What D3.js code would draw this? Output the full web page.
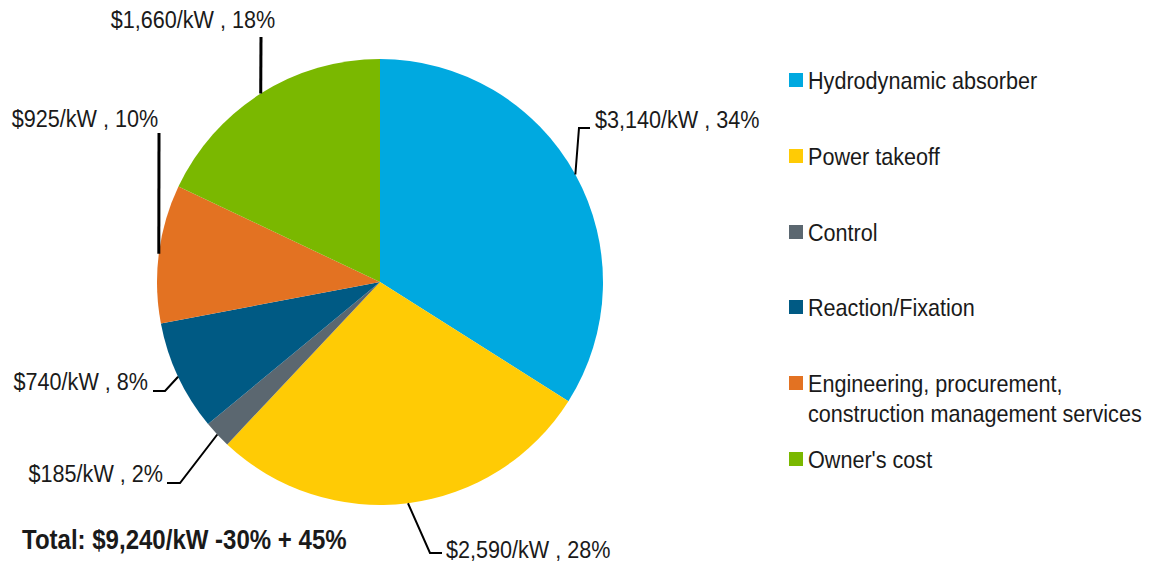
<!DOCTYPE html>
<html><head><meta charset="utf-8">
<script src="https://cdn.jsdelivr.net/npm/d3@7"></script>
<style>
html,body{margin:0;padding:0;background:#fff;}
text{font-family:'Liberation Sans Narrow','Arial Narrow','Liberation Sans',Arial,sans-serif;fill:#1a1a1a;}
</style></head>
<body><svg id="c" width="1152" height="567"></svg>
<script>
const categories = ["Hydrodynamic absorber","Power takeoff","Control","Reaction/Fixation","Engineering, procurement,\nconstruction management services","Owner's cost"];
const costs = [3140, 2590, 185, 740, 925, 1660];
const percents = [34, 28, 2, 8, 10, 18];
const colors = ["#00A9E0","#FFCB05","#5B6770","#005A84","#E37222","#7AB800"];
const totalLabel = "Total: $9,240/kW -30% + 45%";

// label layout (elbow point, end point of leader, text anchor)
const labelLayout = [
  {elbow:[579,128], end:[590,128], tx:595, ty:128, anchor:"start", w:2},
  {elbow:[430,553], end:[442,553], tx:446, ty:558, anchor:"start", w:2},
  {elbow:[180,483], end:[167,483], tx:163, ty:482, anchor:"end", w:2},
  {elbow:[165,391], end:[153,391], tx:148, ty:390, anchor:"end", w:2},
  {elbow:null, end:[159,133], tx:85, ty:127, anchor:"middle", w:3},
  {elbow:null, end:[261,37], tx:193, ty:28, anchor:"middle", w:3}
];

const SX = 0.9;
function ntext(sel, x, y, size, str, anchor, bold, sx){
  const t = sel.append("text")
    .attr("transform",`translate(${x},${y}) scale(${sx||SX},1)`)
    .attr("font-size",size).attr("text-anchor",anchor||"start").text(str);
  if (bold) t.attr("font-weight","bold");
  return t;
}

const svg = d3.select("#c");
const cx = 380, cy = 282, r = 223;
const fmt = d3.format(",");
const pie = d3.pie().sort(null).value(d=>d)(costs);
const arc = d3.arc().innerRadius(0).outerRadius(r);
const g = svg.append("g").attr("transform",`translate(${cx},${cy})`);
g.selectAll("path").data(pie).join("path").attr("d",arc).attr("fill",(d,i)=>colors[i]);

pie.forEach((d,i)=>{
  const a = (d.startAngle+d.endAngle)/2;
  const p0 = [cx + r*Math.sin(a), cy - r*Math.cos(a)];
  const L = labelLayout[i];
  const pts = [p0];
  if (L.elbow) pts.push(L.elbow);
  pts.push(L.end);
  svg.append("path").attr("d", d3.line()(pts)).attr("fill","none").attr("stroke","#000").attr("stroke-width",L.w);
  ntext(svg, L.tx, L.ty, 24, `$${fmt(costs[i])}/kW , ${percents[i]}%`, L.anchor);
});

// legend
const lg = svg.append("g");
const rowY = [80,156,232,307,383,459];
categories.forEach((c,i)=>{
  lg.append("rect").attr("x",789).attr("y",rowY[i]-7).attr("width",14).attr("height",14).attr("fill",colors[i]);
  const lines = c.split("\n");
  lines.forEach((ln,j)=>{
    ntext(lg, 808, rowY[i]+8.5+j*30, 24, ln, "start");
  });
});

ntext(svg, 22, 549, 27, totalLabel, "start", true, 0.89);
</script></body></html>
